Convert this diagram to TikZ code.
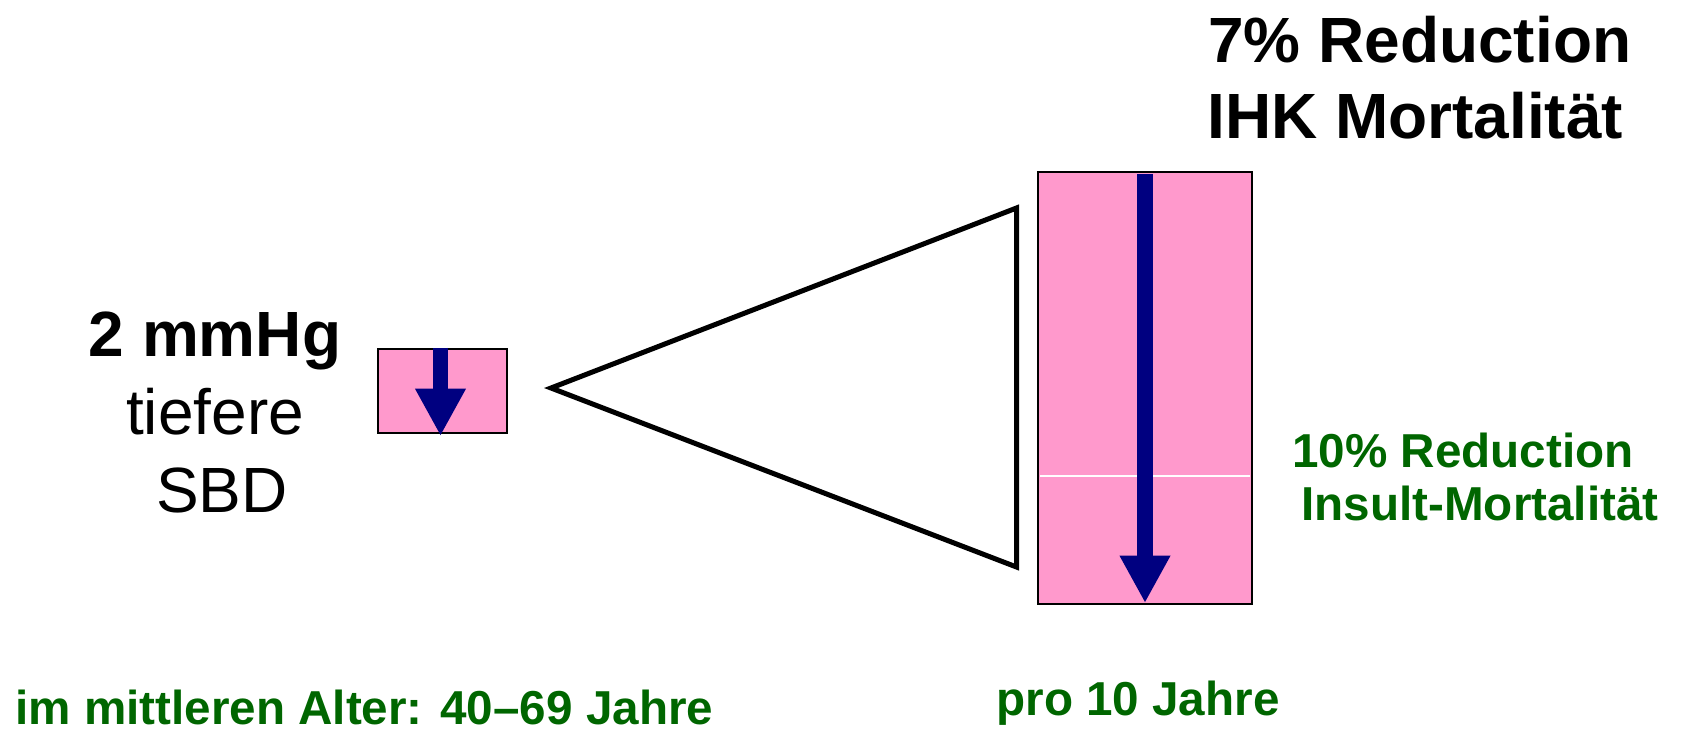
\documentclass[tikz,border=0pt]{standalone}
\usepackage{fontspec}
\setmainfont{Liberation Sans}
\usepackage{tikz}
\usepackage{xcolor}
\usetikzlibrary{arrows.meta, positioning}

\definecolor{boxpink}{HTML}{FF99CC}
\definecolor{arrownavy}{HTML}{000080}
\definecolor{textgreen}{HTML}{006600}

\begin{document}
\begin{tikzpicture}[
        pinkbox/.style={rectangle, draw, line width=1.2pt, fill=boxpink, inner sep=0pt},
        downarrow/.style={arrownavy, line width=0.31cm, -{Triangle[width=0.95cm, length=0.95cm]}},
        bigtext/.style={inner sep=0pt, font=\fontsize{36.4}{43}\selectfont},
        greentext/.style={inner sep=0pt, text=textgreen, font=\fontsize{27.1}{32}\selectfont\bfseries}
    ]
        \useasboundingbox (0, 0) rectangle (33.68, -14.68);

        \node[pinkbox, minimum width=2.58cm, minimum height=1.68cm] (small) at (8.85, -7.82) {};
        \node[pinkbox, minimum width=4.28cm, minimum height=8.64cm] (big) at (22.90, -7.76) {};
        \draw[white, line width=0.7pt] (20.80, -9.52) -- (25.00, -9.52);

        \coordinate (smalltip) at (8.81, -8.72);
        \coordinate (bigtip) at (22.90, -12.06);
        \draw[downarrow] (small.north -| smalltip) -- (smalltip);
        \draw[downarrow] ([yshift=-0.06cm]big.north) -- (bigtip);

        \draw[line width=2.85pt, line join=miter] (11.02, -7.76) -- (20.33, -4.16) -- (20.33, -11.34) -- cycle;

        \node[bigtext, anchor=base] (mmhg) at (4.30, -7.12) {\textbf{2 mmHg}};
        \node[bigtext, anchor=base] (tiefere) at (4.30, -8.68) {tiefere};
        \node[bigtext, anchor=base] (sbd) at (4.44, -10.24) {SBD};

        \node[bigtext, anchor=base west] (ihkred) at (24.16, -1.24) {\textbf{7\% Reduction}};
        \node[bigtext, anchor=base west] (ihk) at (24.14, -2.76) {\textbf{IHK Mortalität}};

        \node[greentext, anchor=base west] (insultred) at (25.84, -9.34) {10\% Reduction};
        \node[greentext, anchor=base west] (insult) at (26.02, -10.40) {Insult-Mortalität};

        \node[greentext, anchor=base west] (alter) at (0.30, -14.48) {im mittleren Alter: 40--69 Jahre};
        \node[greentext, anchor=base] (proyears) at (22.76, -14.30) {pro 10 Jahre};
    \end{tikzpicture}
\end{document}
